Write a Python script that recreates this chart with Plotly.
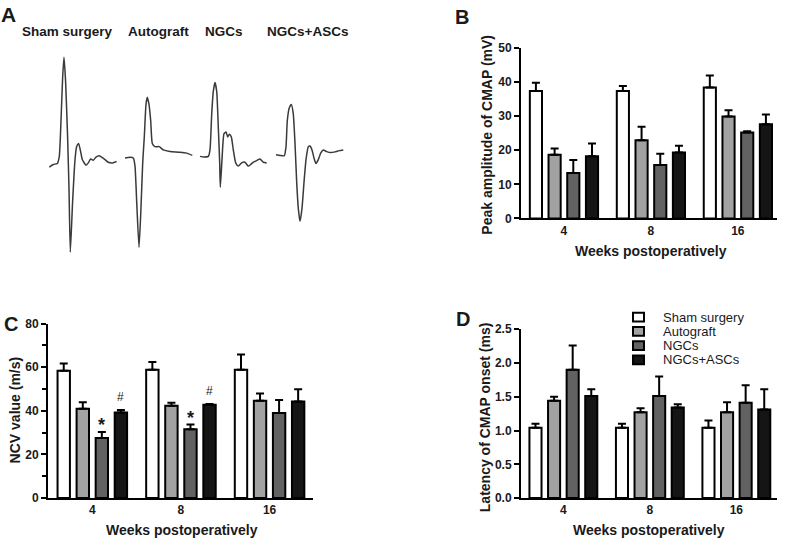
import plotly.graph_objects as go

# ---------------- data ----------------
groups = ["Sham surgery", "Autograft", "NGCs", "NGCs+ASCs"]
weeks = ["4", "8", "16"]
fill_colors = ["#ffffff", "#a2a2a2", "#626262", "#151515"]

# Peak amplitude of CMAP (mV): one row per group, columns = weeks
amp_mean = [[37.4, 37.4, 38.4], [18.7, 22.9, 29.9], [13.3, 15.7, 25.2], [18.2, 19.3, 27.6]]
amp_sem = [[2.4, 1.4, 3.5], [1.8, 4.0, 1.8], [3.8, 3.3, 0.4], [3.8, 2.0, 2.9]]

# NCV value (m/s)
ncv_mean = [[58.4, 58.9, 58.9], [41.0, 42.3, 44.7], [27.6, 31.6, 39.0], [39.2, 42.8, 44.3]]
ncv_sem = [[3.3, 3.5, 7.0], [3.0, 1.4, 3.3], [2.7, 2.1, 6.0], [1.2, 0.3, 5.6]]
ncv_marks = [("*", 2, 0), ("#", 3, 0), ("*", 2, 1), ("#", 3, 1)]  # (symbol, group, week)

# Latency of CMAP onset (ms)
lat_mean = [[1.04, 1.04, 1.04], [1.44, 1.27, 1.27], [1.90, 1.51, 1.41], [1.51, 1.34, 1.31]]
lat_sem = [[0.06, 0.06, 0.11], [0.06, 0.06, 0.15], [0.36, 0.29, 0.26], [0.10, 0.05, 0.30]]

# Representative CMAP waveforms (time, voltage in arbitrary units, baseline = 0)
wave_t_sham = [0, 4, 8, 10, 11.7, 13.3, 14.7, 16.3, 18.3, 19.7, 21, 23.3, 25.7, 27.3, 29.3, 31, 33, 36.7, 39, 41.3, 44, 46.7, 49.7, 52.3, 55.7, 59, 63.3, 67.3]
wave_v_sham = [0, 2.7, 3.7, 11, 47.7, 91, 112.7, 87.7, 31, -22.3, -87.3, -35.7, 7.7, 21, 24.3, 17.7, 7.7, 2, 4.3, 8.3, 7, 10.3, 11.7, 10.3, 7.7, 5, 4.3, 5.7]
wave_t_auto = [0, 5, 8.3, 10, 11.7, 14, 15.7, 17.7, 19.3, 21, 22.3, 24, 25.7, 27.3, 30, 34.3, 38.3, 45, 55, 61.7, 67.3]
wave_v_auto = [0, 0.7, 0, -8.3, -45, -91.7, -58.3, -5, 21.7, 55, 62.3, 55, 38.3, 15, 11.7, 11.7, 8.3, 6.7, 6, 5, 2.7]
wave_t_ngc = [0, 4, 8.3, 10, 11.7, 13.3, 15, 16.7, 18.3, 19.7, 20.3, 22, 24, 26, 27.7, 29.3, 31.3, 33.3, 35.7, 38.3, 41.7, 45, 48.3, 50.7, 53.3, 56.7, 60, 63.3, 66.7]
wave_v_ngc = [0, -0.7, 0, 6.7, 43.3, 66.7, 75.7, 66.7, 30, -6.7, -31.7, -3.3, 23.3, 25, 20, 22.7, 20, 6.7, -6.7, -10, -6.7, -6, -10, -8.3, -6, -4.3, -2.7, -6, -6.7]
wave_t_asc = [0, 4, 8.3, 10, 11.3, 13.3, 15.3, 17.3, 19, 20.7, 22.3, 24, 26, 28, 30, 32.3, 34, 36, 38, 40, 42.3, 44.7, 47.3, 50.7, 54.7, 59, 63.3, 67.3]
wave_v_asc = [0, -0.7, -1, 8.3, 35, 48.3, 51.7, 41.7, 11.7, -28.3, -55, -68.3, -55, -28.3, -5, 8.3, 9, 5, -3.3, -9, -5, 1.7, 5, 3.3, 2.3, 3, 4.3, 5]

# ---------------- layout helpers ----------------
W, H = 787, 546
def px(x):
    return x / W
def py(y):
    return 1 - y / H

FONT = "Liberation Sans, Arial, sans-serif"
TXT = "#1a1a1a"
BARGAP = 0.14
SLOT = (1 - BARGAP) / 4

fig = go.Figure()

panels = [
    ("x", "y", amp_mean, amp_sem),
    ("x2", "y2", ncv_mean, ncv_sem),
    ("x3", "y3", lat_mean, lat_sem),
]
for xa, ya, means, sems in panels:
    for g, name in enumerate(groups):
        fig.add_trace(go.Bar(
            x=list(range(len(weeks))), y=means[g], name=name,
            xaxis=xa, yaxis=ya, offsetgroup=str(g), showlegend=False,
            marker=dict(color=fill_colors[g], line=dict(color="black", width=2)),
            error_y=dict(type="data", array=sems[g], arrayminus=[0] * len(weeks),
                         symmetric=False, thickness=2, width=4, color="black"),
        ))

# waveforms (panel A)
waves = [(wave_t_sham, wave_v_sham), (wave_t_auto, wave_v_auto),
         (wave_t_ngc, wave_v_ngc), (wave_t_asc, wave_v_asc)]
wave_origin = [(49.3, 164.3), (125, 155), (200, 153.3), (276, 151.7)]  # placement in panel
for (t, v), (ox, oy) in zip(waves, wave_origin):
    fig.add_trace(go.Scatter(
        x=[ox + ti for ti in t], y=[-oy + vi for vi in v], mode="lines",
        line=dict(color="#3a3a3a", width=1.5, shape="spline", smoothing=0.5),
        xaxis="x4", yaxis="y4", showlegend=False, hoverinfo="skip"))

tickfont = dict(family=FONT, size=12, color=TXT, weight="bold")

def xax(x0, x1, rng):
    return dict(domain=[px(x0), px(x1)], range=rng, tickvals=[0, 1, 2], ticktext=weeks,
                showline=True, linecolor="black", linewidth=2, ticks="",
                tickfont=tickfont, showgrid=False, zeroline=False, fixedrange=True)

def yax(y_top, y_bot, rng, dtick, anchor, minor=None):
    d = dict(domain=[py(y_bot), py(y_top)], range=rng, dtick=dtick, tick0=0,
             showline=True, linecolor="black", linewidth=2, ticks="outside",
             ticklen=5, tickwidth=2, tickcolor="black", tickfont=tickfont,
             showgrid=False, zeroline=False, anchor=anchor, fixedrange=True)
    if minor:
        d["minor"] = dict(ticks="outside", ticklen=4, tickwidth=2, tickcolor="black", dtick=minor, showgrid=False)
    return d

fig.update_layout(
    width=W, height=H, margin=dict(l=0, r=0, t=0, b=0),
    paper_bgcolor="white", plot_bgcolor="white",
    barmode="group", bargap=BARGAP, bargroupgap=0.35,
    font=dict(family=FONT, color=TXT),
    xaxis=dict(**xax(521, 777, [-0.494, 2.45]), anchor="y"),
    yaxis=yax(42, 217, [0, 50], 10, "x"),
    xaxis2=dict(**xax(48, 313, [-0.5, 2.49]), anchor="y2"),
    yaxis2=yax(325, 504, [0, 80], 20, "x2", minor=10),
    xaxis3=dict(**xax(521, 777, [-0.49, 2.47]), anchor="y3"),
    yaxis3=yax(330.7, 504, [0, 2.5], 0.5, "x3"),
    xaxis4=dict(domain=[0, px(390)], range=[0, 390], visible=False, fixedrange=True, anchor="y4"),
    yaxis4=dict(domain=[py(273), 1], range=[-273, 0], visible=False, fixedrange=True, anchor="x4"),
)
fig.update_yaxes(tickformat=".1f", selector=dict(anchor="x3"))

ann = []
def text(x, y, s, size, bold=True, angle=0, xanchor="center"):
    ann.append(dict(x=px(x), y=py(y), xref="paper", yref="paper", text=s, showarrow=False,
                    textangle=angle, xanchor=xanchor, yanchor="middle",
                    font=dict(family=FONT, size=size, color=TXT, weight="bold" if bold else "normal")))

# panel letters
text(8, 8, "A", 21)
text(462, 10, "B", 20)
text(11, 325, "C", 20)
text(462.5, 320, "D", 20)

# panel A labels
for lbl, cx in zip(groups, [67, 158, 224, 307]):
    text(cx, 25, lbl, 13.5)

# axis titles
text(487, 131, "Peak amplitude of CMAP (mV)", 14, angle=-90)
text(651, 250, "Weeks postoperatively", 14)
text(15, 414, "NCV value (m/s)", 14, angle=-90)
text(182, 537, "Weeks postoperatively", 14)
text(485, 421, "Latency of CMAP onset (ms)", 14, angle=-90)
text(649, 537, "Weeks postoperatively", 14)

# significance marks in panel C
for sym, g, w in ncv_marks:
    star = sym == "*"
    ann.append(dict(x=w + (g - 1.5) * SLOT, y=ncv_mean[g][w] + ncv_sem[g][w],
                    xref="x2", yref="y2", text=sym, showarrow=False,
                    yanchor="bottom", yshift=-5 if star else 4,
                    font=dict(family=FONT, size=18 if star else 12, color=TXT,
                              weight="bold" if star else "normal")))

# legend (panel D)
shapes = []
leg_rows = [318.3, 332.9, 347.5, 362.1]
for g, name in enumerate(groups):
    cy = leg_rows[g]
    shapes.append(dict(type="rect", xref="paper", yref="paper",
                       x0=px(633), x1=px(644), y0=py(cy + 4.5), y1=py(cy - 4.5),
                       fillcolor=fill_colors[g], line=dict(color="black", width=2)))
    text(661, cy, name, 13, bold=False, xanchor="left")

fig.update_layout(annotations=ann, shapes=shapes)
fig.write_html("out.html", config={"displayModeBar": False},
               post_script="document.body.style.margin='0';document.body.style.overflow='hidden';")
